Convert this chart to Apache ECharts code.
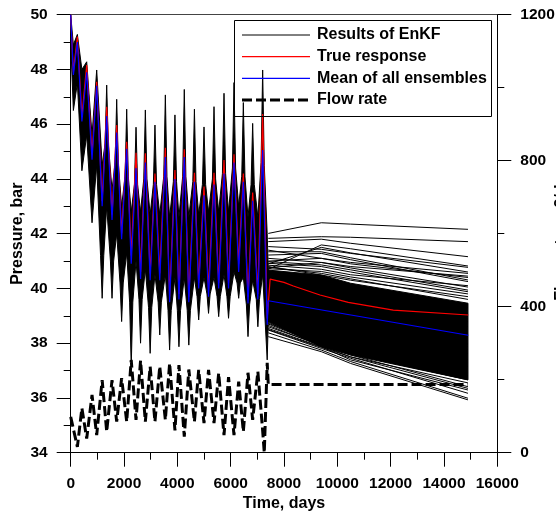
<!DOCTYPE html>
<html>
<head>
<meta charset="utf-8">
<script src="https://cdn.jsdelivr.net/npm/echarts@6/dist/echarts.min.js"></script>
<style>
html,body{margin:0;padding:0;background:#fff;}
#chart{width:556px;height:512px;}
</style>
</head>
<body>
<div id="chart"></div>
<script>
// ---- Data ----
// Upper edge of the ensemble bundle (pressure, bar)
const upperT = [0, 100, 250, 420, 600, 800, 975, 1180, 1290, 1350, 1410, 1550, 1665, 1725, 1785, 1910, 2040, 2100, 2160, 2270, 2390, 2450, 2510, 2620, 2740, 2800, 2860, 2980, 3100, 3160, 3220, 3340, 3490, 3550, 3610, 3710, 3850, 3910, 3970, 4060, 4200, 4260, 4320, 4430, 4580, 4640, 4700, 4800, 4940, 5000, 5060, 5170, 5315, 5375, 5435, 5550, 5690, 5750, 5810, 5920, 6065, 6125, 6185, 6300, 6415, 6475, 6535, 6650, 6765, 6825, 6885, 7020, 7140, 7200, 7260, 7370, 7410, 9400, 10500, 14900];
const upperP = [50.0, 48.9, 49.28, 48.0, 48.28, 45.6, 47.98, 44.5, 45.3, 47.43, 45.3, 43.6, 44.6, 46.91, 44.6, 43.0, 44.1, 46.55, 44.1, 42.8, 43.8, 45.89, 43.8, 42.8, 44.0, 46.52, 44.0, 42.7, 43.8, 45.97, 43.8, 42.7, 44.1, 47.07, 44.1, 42.6, 43.9, 46.34, 43.9, 42.6, 44.1, 47.27, 44.1, 42.6, 43.9, 46.55, 43.9, 42.7, 43.8, 45.9, 43.8, 42.8, 44.0, 46.64, 44.0, 42.8, 44.2, 47.13, 44.2, 42.8, 44.4, 47.52, 44.4, 43.0, 44.1, 46.79, 44.1, 42.6, 43.8, 46.03, 43.8, 42.6, 44.6, 47.98, 44.5, 42.0, 40.67, 40.49, 40.19, 39.46];
// Lower edge of the ensemble bundle (pressure, bar)
const lowerT = [0, 100, 250, 420, 600, 800, 975, 1120, 1180, 1240, 1350, 1490, 1550, 1610, 1725, 1850, 1910, 1970, 2100, 2210, 2270, 2330, 2450, 2560, 2620, 2680, 2800, 2920, 2980, 3040, 3160, 3280, 3340, 3400, 3550, 3650, 3710, 3770, 3910, 4000, 4060, 4120, 4260, 4370, 4430, 4490, 4640, 4740, 4800, 4860, 5000, 5110, 5170, 5230, 5375, 5490, 5550, 5610, 5750, 5860, 5920, 5980, 6125, 6240, 6300, 6360, 6475, 6590, 6650, 6710, 6825, 6960, 7020, 7080, 7200, 7370, 7410, 9400, 10500, 14900];
const lowerP = [49.0, 46.5, 47.5, 44.3, 45.6, 42.4, 44.5, 41.2, 39.64, 41.2, 43.0, 41.0, 39.64, 41.0, 42.0, 40.2, 38.79, 40.2, 41.3, 39.5, 37.14, 39.5, 41.0, 39.6, 38.0, 39.6, 40.7, 39.3, 37.63, 39.3, 40.5, 39.5, 38.3, 39.5, 40.5, 39.2, 37.75, 39.2, 40.4, 39.2, 37.87, 39.2, 40.4, 39.2, 37.93, 39.2, 40.4, 39.7, 38.85, 39.7, 40.4, 39.8, 39.09, 39.8, 40.4, 39.7, 38.97, 39.7, 40.5, 39.7, 38.91, 39.7, 40.6, 40.2, 39.64, 40.2, 40.4, 39.4, 38.24, 39.4, 40.3, 39.6, 38.6, 39.6, 40.5, 37.39, 38.77, 37.87, 37.57, 36.66];

// Individual ensemble members visible outside the dense fan (forecast period)
const lateT = [7410, 9400, 10500, 14900];
const lateMembers = [
  [42.01, 42.40, 42.35, 42.16],
  [41.83, 41.89, 41.87, 41.71],
  [41.71, 41.80, 41.65, 41.16],
  [40.70, 41.59, 41.45, 40.82],
  [41.53, 41.43, 41.28, 40.77],
  [41.34, 41.34, 41.12, 40.31],
  [41.22, 41.28, 41.05, 40.25],
  [40.98, 40.86, 40.68, 39.94],
  [40.92, 40.80, 40.60, 39.88],
  [40.80, 40.49, 40.30, 39.70],
  [41.00, 41.10, 40.95, 40.55],
  [40.75, 40.95, 40.80, 40.45],
  [40.85, 40.70, 40.50, 40.10],
  [41.10, 40.95, 40.75, 40.05],
  [40.72, 40.62, 40.42, 39.80],
  [40.90, 41.50, 41.30, 40.60],
  [41.40, 41.10, 40.90, 40.40],
  [40.78, 40.55, 40.35, 39.60],
  [38.73, 38.00, 37.63, 36.66],
  [38.60, 37.93, 37.57, 36.41],
  [38.54, 37.87, 37.39, 36.29],
  [38.48, 37.81, 37.45, 36.17],
  [38.38, 37.75, 37.33, 35.99],
  [38.24, 37.69, 37.26, 35.93],
  [38.70, 37.95, 37.70, 36.80],
  [38.65, 37.90, 37.50, 36.55],
  [38.50, 37.85, 37.50, 36.35]
];

// True response (red)
const trueT = [0, 100, 250, 420, 600, 800, 975, 1180, 1350, 1550, 1725, 1910, 2100, 2270, 2450, 2620, 2800, 2980, 3160, 3340, 3550, 3710, 3910, 4060, 4260, 4430, 4640, 4800, 5000, 5170, 5375, 5550, 5750, 5920, 6125, 6300, 6475, 6650, 6825, 7020, 7200, 7370, 7480, 8000, 8350, 9350, 10410, 12100, 14910];
const trueP = [50.0, 47.9, 49.2, 46.3, 48.16, 44.9, 47.55, 43.2, 46.64, 42.7, 45.97, 42.0, 45.36, 41.2, 44.96, 40.6, 44.94, 40.55, 44.2, 40.55, 45.14, 39.7, 44.33, 39.8, 45.08, 39.7, 44.23, 40.2, 43.72, 39.95, 44.23, 40.2, 44.69, 40.2, 44.9, 40.9, 44.2, 39.7, 43.5, 39.8, 46.37, 38.9, 40.34, 40.22, 40.09, 39.76, 39.49, 39.21, 39.03];

// Mean of all ensembles (blue)
const meanT = [0, 100, 250, 420, 600, 800, 975, 1180, 1350, 1550, 1725, 1910, 2100, 2270, 2450, 2620, 2800, 2980, 3160, 3340, 3550, 3710, 3910, 4060, 4260, 4430, 4640, 4800, 5000, 5170, 5375, 5550, 5750, 5920, 6125, 6300, 6475, 6650, 6825, 7020, 7200, 7370, 7410, 14910];
const meanP = [50.0, 47.8, 49.0, 46.1, 47.9, 44.7, 47.4, 43.0, 46.3, 42.5, 45.7, 41.8, 45.1, 40.9, 44.4, 40.35, 44.6, 40.3, 43.9, 40.3, 44.8, 39.5, 44.0, 39.6, 44.8, 39.5, 43.9, 40.0, 43.4, 39.7, 43.8, 40.0, 44.2, 40.0, 44.6, 40.6, 43.9, 39.45, 43.2, 39.6, 45.06, 38.67, 39.55, 38.29];

// Flow rate (right axis, dashed)
const flowT = [0, 250, 420, 600, 800, 975, 1180, 1350, 1550, 1725, 1910, 2100, 2270, 2450, 2620, 2800, 2980, 3160, 3340, 3550, 3710, 3910, 4060, 4260, 4430, 4640, 4800, 5000, 5170, 5375, 5550, 5750, 5920, 6125, 6300, 6475, 6650, 6825, 7020, 7200, 7260, 7370, 7410, 14900];
const flowQ = [98, 16, 122, 39, 158, 48, 199, 58, 199, 85, 204, 85, 254, 90, 252, 85, 236, 85, 236, 90, 245, 61, 240, 44, 228, 85, 227, 81, 227, 81, 218, 48, 207, 48, 195, 58, 219, 90, 222, 60, 0, 246, 187, 187];

// Axis ranges / ticks
const xRange = [0, 16000], xStep = 2000;
const pRange = [34, 50], pStep = 2;
const qRange = [0, 1200], qStep = 400;
const legendNames = ['Results of EnKF', 'True response', 'Mean of all ensembles', 'Flow rate'];

// ---- Build chart ----
const FONT = '"Liberation Sans", Arial, Helvetica, sans-serif';
const zip = (a, b) => a.map((v, i) => [v, b[i]]);
const BLACK = '#000', RED = '#ff0000', BLUE = '#0000ff';

const series = [];
series.push({
  name: 'Flow rate', type: 'line', yAxisIndex: 1, symbol: 'none', silent: true,
  data: zip(flowT, flowQ), itemStyle: { color: BLACK },
  lineStyle: { color: BLACK, width: 3, type: [10, 4], cap: 'butt' }
});
series.push({
  name: 'Results of EnKF', type: 'custom', silent: true, clip: true,
  data: zip(upperT, upperP).concat(zip(lowerT, lowerP)),
  encode: { x: 0, y: 1 },
  renderItem: function (params, api) {
    if (params.dataIndex !== 0) return null;
    const pts = [];
    for (let i = 0; i < upperT.length; i++) pts.push(api.coord([upperT[i], upperP[i]]));
    for (let i = lowerT.length - 1; i >= 0; i--) pts.push(api.coord([lowerT[i], lowerP[i]]));
    return {
      type: 'polygon',
      shape: { points: pts },
      style: { fill: BLACK, stroke: BLACK, lineWidth: 1 }
    };
  }
});
lateMembers.forEach((m) => {
  series.push({
    name: 'Results of EnKF', type: 'line', symbol: 'none', silent: true,
    data: zip(lateT, m), itemStyle: { color: BLACK },
    lineStyle: { color: BLACK, width: 1 }
  });
});
series.push({
  name: 'True response', type: 'line', symbol: 'none', silent: true,
  data: zip(trueT, trueP), itemStyle: { color: RED },
  lineStyle: { color: RED, width: 1.2 }
});
series.push({
  name: 'Mean of all ensembles', type: 'line', symbol: 'none', silent: true,
  data: zip(meanT, meanP), itemStyle: { color: BLUE },
  lineStyle: { color: BLUE, width: 1.2 }
});

const fmt = (v) => String(v);
const tickLabel = { color: '#000', fontSize: 15.5, fontWeight: 'bold', fontFamily: FONT, formatter: fmt };
const nameStyle = { color: '#000', fontSize: 16, fontWeight: 'bold', fontFamily: FONT };
const axLine = { show: true, onZero: false, lineStyle: { color: '#000', width: 1 } };
const tick = { show: true, inside: false, length: 14, lineStyle: { color: '#000', width: 1 } };
const minor = { show: true, splitNumber: 2, length: 7, lineStyle: { color: '#000', width: 1 } };

// Legend drawn as graphic elements (box, samples, real text)
const legBox = { x: 234.5, y: 20.5, w: 257, h: 96 };
const legRows = [35, 56.7, 78.4, 100];
const legStyles = [
  { stroke: BLACK, lineWidth: 1 },
  { stroke: RED, lineWidth: 1.2 },
  { stroke: BLUE, lineWidth: 1.2 },
  { stroke: BLACK, lineWidth: 3, lineDash: [10, 4] }
];
const graphics = [{
  type: 'rect', z: 100, silent: true,
  shape: { x: legBox.x, y: legBox.y, width: legBox.w, height: legBox.h },
  style: { fill: 'none', stroke: BLACK, lineWidth: 1 }
}];
legendNames.forEach((n, i) => {
  graphics.push({
    type: 'line', z: 100, silent: true,
    shape: { x1: 242, y1: legRows[i], x2: 310, y2: legRows[i] },
    style: legStyles[i]
  });
  graphics.push({
    type: 'text', z: 100, silent: true, x: 317, y: legRows[i],
    style: { text: n, fill: BLACK, font: 'bold 16px ' + FONT, textVerticalAlign: 'middle', verticalAlign: 'middle', textAlign: 'left', align: 'left' }
  });
});

const option = {
  animation: false,
  backgroundColor: '#fff',
  grid: { left: 70.7, right: 58.7, top: 14.7, bottom: 59.3, containLabel: false, outerBoundsMode: 'none' },
  graphic: graphics,
  xAxis: [{
    type: 'value', min: xRange[0], max: xRange[1], interval: xStep, position: 'bottom',
    axisLine: axLine, axisTick: tick, minorTick: minor,
    splitLine: { show: false }, minorSplitLine: { show: false },
    axisLabel: Object.assign({ margin: 23 }, tickLabel),
    name: 'Time, days', nameLocation: 'middle', nameGap: 43, nameMoveOverlap: false, nameTextStyle: nameStyle
  }, {
    type: 'value', min: xRange[0], max: xRange[1], position: 'top',
    axisLine: { show: true, onZero: false, lineStyle: { color: '#444', width: 1 } },
    axisTick: { show: false }, axisLabel: { show: false }, splitLine: { show: false }
  }],
  yAxis: [{
    type: 'value', min: pRange[0], max: pRange[1], interval: pStep, position: 'left',
    axisLine: axLine, axisTick: tick, minorTick: minor,
    splitLine: { show: false }, minorSplitLine: { show: false },
    axisLabel: Object.assign({ margin: 23 }, tickLabel),
    name: 'Pressure, bar', nameLocation: 'middle', nameGap: 45, nameRotate: 90, nameMoveOverlap: false, nameTextStyle: nameStyle
  }, {
    type: 'value', min: qRange[0], max: qRange[1], interval: qStep, position: 'right',
    axisLine: axLine, axisTick: tick, minorTick: minor,
    splitLine: { show: false }, minorSplitLine: { show: false },
    axisLabel: Object.assign({ margin: 23 }, tickLabel),
    name: 'Flow rate, m3/day', nameLocation: 'middle', nameGap: 56, nameRotate: 90, nameMoveOverlap: false, nameTextStyle: nameStyle
  }],
  series: series
};

const chart = echarts.init(document.getElementById('chart'), null, { renderer: 'canvas' });
chart.setOption(option);
</script>
</body>
</html>
